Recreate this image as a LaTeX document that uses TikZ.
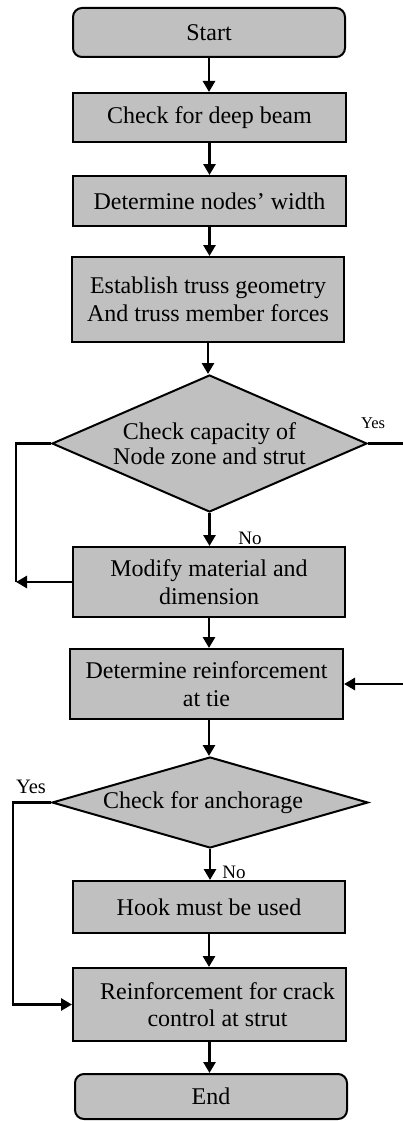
\documentclass[tikz,border=0pt]{standalone}
\usepackage{fontspec}
\setmainfont{Liberation Serif}
\usetikzlibrary{arrows.meta,shapes.geometric}
\definecolor{boxgray}{RGB}{192,192,192}
\begin{document}
\begin{tikzpicture}[x=1pt,y=-1pt,
  box/.style={draw, line width=2pt, fill=boxgray, inner sep=0pt,
    font=\fontsize{24}{27.5}\selectfont, align=center},
  rbox/.style={box, rounded corners=9pt},
  dia/.style={draw, line width=2pt, fill=boxgray, diamond, inner sep=0pt},
  dtext/.style={font=\fontsize{24}{25}\selectfont, align=center},
  arr/.style={line width=2.8pt, -{Triangle[length=11pt,width=12pt]}},
  lbl/.style={inner sep=0pt}]
\useasboundingbox (0,0) rectangle (402,1121);

\node[rbox, minimum width=272pt, minimum height=49pt] (start) at (209,32.5) {Start};
\node[box, minimum width=273pt, minimum height=49pt] (deep) at (209.5,117.5) {Check for deep beam};
\node[box, minimum width=273pt, minimum height=50pt] (nw) at (209.5,201) {Determine nodes’ width};
\node[box, minimum width=272pt, minimum height=85pt] (truss) at (208,299.5) {Establish truss geometry\\And truss member forces};
\node[dia, minimum width=315pt, minimum height=137pt] (d1) at (209.5,443.5) {};
\node[dtext] (d1t) at (d1.center) {Check capacity of\\Node zone and strut};
\node[box, minimum width=272pt, minimum height=70pt] (mod) at (209,582) {Modify material and\\dimension};
\node[box, minimum width=273pt, minimum height=70pt] (dr) at (206.5,684) {Determine reinforcement\\at tie};
\node[dia, minimum width=316pt, minimum height=91pt] (d2) at (210,802.5) {};
\node[dtext] (d2t) at ([xshift=-7pt]d2.center) {Check for anchorage};
\node[box, minimum width=272pt, minimum height=52pt] (hook) at (209,907) {Hook must be used};
\node[box, minimum width=273pt, minimum height=73pt] (rc) at (209.5,1004.5) {};
\node[dtext, font=\fontsize{24}{27.5}\selectfont] (rct) at ([xshift=8pt]rc.center) {Reinforcement for crack\\control at strut};
\node[rbox, minimum width=272pt, minimum height=45pt] (end) at (211,1096.5) {End};

% labels
\node[lbl, font=\fontsize{16.5}{18}\selectfont] (yes1) at (373,423) {Yes};
\node[lbl, font=\fontsize{19}{21}\selectfont] (no1) at (250,538) {No};
\node[lbl, font=\fontsize{20.5}{22}\selectfont] (yes2) at (31,787) {Yes};
\node[lbl, font=\fontsize{19}{21}\selectfont] (no2) at (234,872) {No};

% main arrows
\draw[arr] (start.south) -- (start.south |- deep.north);
\draw[arr] (deep.south) -- (deep.south |- nw.north);
\draw[arr] (nw.south) -- (nw.south |- truss.north);
\draw[arr] (truss.south) -- (truss.south |- d1.north);
\draw[arr] (d1.south) -- (d1.south |- mod.north);
\draw[arr] (mod.south) -- (mod.south |- dr.north);
\draw[arr] ([xshift=2.5pt]dr.south) -- ([xshift=2.5pt]dr.south |- d2.north);
\draw[arr] (d2.south) -- (d2.south |- hook.north);
\draw[arr] (hook.south) -- (hook.south |- rc.north);
\draw[arr] (rc.south) -- (rc.south |- end.north);

% loops
\coordinate (L1) at (16,582);
\draw[line width=2.8pt] (d1.west) -| (L1);
\draw[arr] (mod.west) -- (L1);
\coordinate (R1) at (408,443.5);
\draw[arr] (d1.east) -- (R1) |- (dr.east);
\coordinate (L2) at (13,802.5);
\draw[arr] (d2.west) -- (L2) |- (rc.west);
\end{tikzpicture}
\end{document}
